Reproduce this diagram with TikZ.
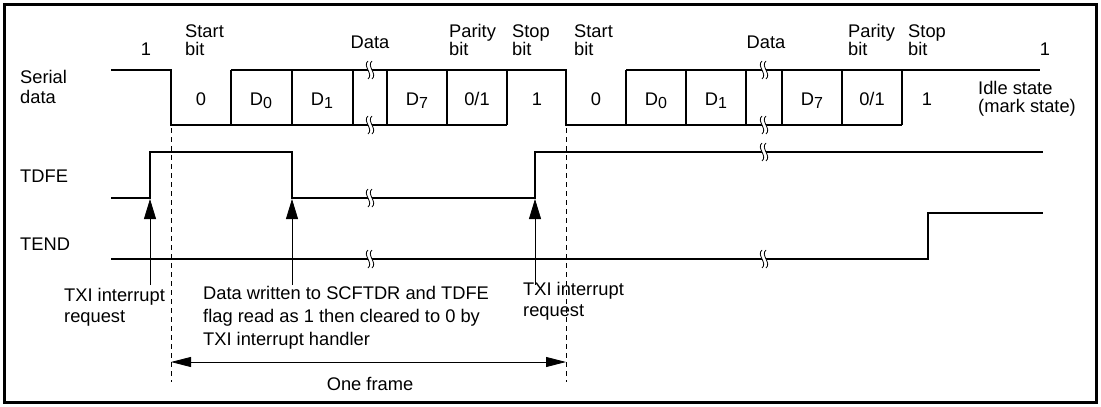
\documentclass[tikz,border=0pt]{standalone}
\usepackage{fontspec}
\setmainfont{Liberation Sans}
\usetikzlibrary{arrows.meta}
\newcommand\sub[1]{\raisebox{-3pt}{\fontsize{16}{16}\selectfont #1}}
\begin{document}
\begin{tikzpicture}[x=1pt,y=-1pt,
  wave/.style={line width=2.2pt},
  thin/.style={line width=0.8pt},
  guide/.style={line width=0.8pt, dash pattern=on 5pt off 4pt},
  hdr/.style={font=\fontsize{18.3}{18}\selectfont, inner sep=0pt, align=left},
  txt/.style={font=\fontsize{18.3}{23}\selectfont, inner sep=0pt, align=left},
  upar/.style={thin, -{Triangle[length=20pt,width=12pt]}},
  brk/.pic={
    \fill[white] (-2,-9) .. controls (-8,-4) and (4,4) .. (-2,9) -- (2,9) .. controls (8,4) and (-4,-4) .. (2,-9) -- cycle;
    \draw[line width=0.8pt] (-2,-9) .. controls (-8,-4) and (4,4) .. (-2,9);
    \draw[line width=0.8pt] (2,-9) .. controls (-4,-4) and (8,4) .. (2,9);
  }]
\useasboundingbox (0,0) rectangle (1101,407);
\draw[line width=3pt] (4.5,4.5) rectangle (1096.5,402.5);

% serial data
\draw[wave] (111,70) -- (171,70) -- (171,125) -- (507,125);
\draw[wave] (231,70) -- (566,70) -- (566,125) -- (902,125);
\draw[wave] (626,70) -- (1040,70);
\foreach \x in {231,292,353,387,447,507,626,686,746,782,842,902}
  \draw[wave] (\x,70) -- (\x,125);

% TDFE / TEND
\draw[wave] (111,198) -- (150,198) -- (150,152) -- (292,152) -- (292,198) -- (535,198) -- (535,152) -- (1043,152);
\draw[wave] (111,259) -- (928,259) -- (928,213) -- (1043,213);

% break marks
\foreach \p in {(370,70),(370,125),(764,70),(764,125),(370,198),(764,152),(370,259),(764,259)}
  \pic at \p {brk};

% guides
\coordinate (g1t) at (171,128); \coordinate (g1b) at (171,382);
\coordinate (g2t) at (566,128); \coordinate (g2b) at (566,382);
\draw[guide] (g1t) -- (g1b);
\draw[guide] (g2t) -- (g2b);
\coordinate (f1) at (171,362); \coordinate (f2) at (566,362);
\draw[thin, {Triangle[length=20pt,width=10pt]}-{Triangle[length=20pt,width=10pt]}] (f1) -- (f2);
\node[txt, anchor=base] (oneframe) at (370,390) {One frame};

% arrows
\coordinate (a1s) at (150,285); \coordinate (a1e) at (150,199);
\coordinate (a2s) at (292,285); \coordinate (a2e) at (292,199);
\coordinate (a3s) at (535,285); \coordinate (a3e) at (535,199);
\draw[upar] (a1s) -- (a1e);
\draw[upar] (a2s) -- (a2e);
\draw[upar] (a3s) -- (a3e);

% header labels (base = last line)
\node[hdr, anchor=base] (h1) at (146,55) {1};
\node[hdr, anchor=base west] (hs1) at (185,55) {Start\\bit};
\node[hdr, anchor=base] (hd1) at (370,48) {Data};
\node[hdr, anchor=base west] (hp1) at (449,55) {Parity\\bit};
\node[hdr, anchor=base west] (hst1) at (512,55) {Stop\\bit};
\node[hdr, anchor=base west] (hs2) at (574,55) {Start\\bit};
\node[hdr, anchor=base] (hd2) at (766,48) {Data};
\node[hdr, anchor=base west] (hp2) at (848,55) {Parity\\bit};
\node[hdr, anchor=base west] (hst2) at (908,55) {Stop\\bit};
\node[hdr, anchor=base] (h2) at (1045,55) {1};

% bit labels
\node[hdr, anchor=base] (b1) at (201,105) {0};
\node[hdr, anchor=base] (b2) at (261,105) {D\sub{0}};
\node[hdr, anchor=base] (b3) at (322,105) {D\sub{1}};
\node[hdr, anchor=base] (b4) at (417,105) {D\sub{7}};
\node[hdr, anchor=base] (b5) at (477,105) {0/1};
\node[hdr, anchor=base] (b6) at (537,105) {1};
\node[hdr, anchor=base] (b7) at (596,105) {0};
\node[hdr, anchor=base] (b8) at (656,105) {D\sub{0}};
\node[hdr, anchor=base] (b9) at (716,105) {D\sub{1}};
\node[hdr, anchor=base] (b10) at (812,105) {D\sub{7}};
\node[hdr, anchor=base] (b11) at (872,105) {0/1};
\node[hdr, anchor=base] (b12) at (927,105) {1};

% signal names
\node[hdr, anchor=base west, font=\fontsize{18.3}{20}\selectfont] (ser) at (20,103) {Serial\\data};
\node[hdr, anchor=base west] (tdfe) at (20,182) {TDFE};
\node[hdr, anchor=base west] (tend) at (20,250) {TEND};
\node[hdr, anchor=base west] (idle) at (978,112) {Idle state\\(mark state)};

% bottom notes
\node[txt, anchor=base west, font=\fontsize{18.3}{21}\selectfont] (n1) at (64,322) {TXI interrupt\\request};
\node[txt, anchor=base west] (n2) at (203,345) {Data written to SCFTDR and TDFE\\flag read as 1 then cleared to 0 by\\TXI interrupt handler};
\node[txt, anchor=base west, font=\fontsize{18.3}{21}\selectfont] (n3) at (523,316) {TXI interrupt\\request};
\end{tikzpicture}
\end{document}
